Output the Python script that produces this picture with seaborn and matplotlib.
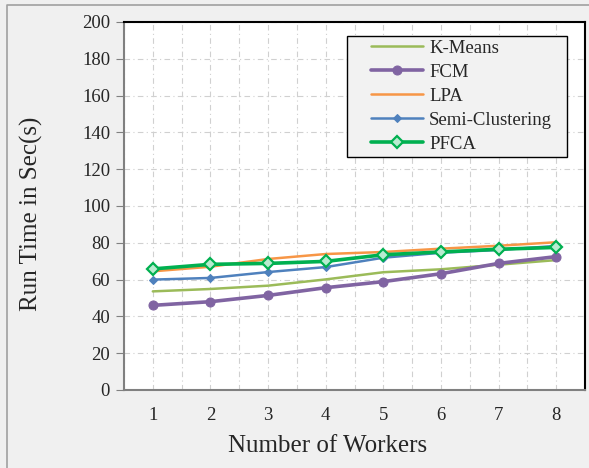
import matplotlib
matplotlib.use("Agg")
import matplotlib.pyplot as plt
from matplotlib.patches import Rectangle
from matplotlib.lines import Line2D
from matplotlib.ticker import MultipleLocator
import seaborn as sns
import pandas as pd

workers = [1, 2, 3, 4, 5, 6, 7, 8]
kmeans = [53.6, 54.9, 56.7, 60.1, 64.0, 65.6, 68.1, 70.6]
fcm = [46.0, 48.0, 51.4, 55.6, 58.9, 63.2, 68.8, 72.5]
lpa = [64.5, 67.0, 71.2, 73.9, 75.0, 76.8, 78.4, 80.3]
semi = [60.0, 60.9, 64.1, 66.8, 71.9, 74.6, 76.1, 78.3]
pfca = [65.8, 68.3, 68.8, 69.9, 73.5, 75.0, 76.5, 77.5]

y_ticks = list(range(0, 201, 20))

sns.set_theme(style="white")
plt.rcParams["font.family"] = ["Liberation Serif", "DejaVu Serif"]

W, H = 589, 468
fig = plt.figure(figsize=(W / 100, H / 100), dpi=100)
fig.patch.set_facecolor("#f0f0f0")
# frame edges along the left and top of the canvas
fig.lines.append(Line2D([7 / W, 7 / W, 1.0], [0.0, 1 - 5 / H, 1 - 5 / H],
                        transform=fig.transFigure, color="#a0a0a0", linewidth=1.2))

ax = fig.add_axes([124 / W, 1 - 390 / H, (585 - 124) / W, (390 - 22) / H])
ax.set_facecolor("white")

series = [
    ("K-Means", kmeans, dict(color="#9bbb59", linewidth=1.8, marker=None)),
    ("FCM", fcm, dict(color="#8064a2", linewidth=2.6, marker="o", markersize=6.5,
                      markeredgecolor="#8064a2")),
    ("LPA", lpa, dict(color="#f79646", linewidth=1.8, marker=None)),
    ("Semi-Clustering", semi, dict(color="#4f81bd", linewidth=1.8, marker="D",
                                    markersize=4, markeredgecolor="#4f81bd")),
    ("PFCA", pfca, dict(color="#00b050", linewidth=2.6, marker="D", markersize=6.5,
                        markerfacecolor="#b8ecd0", markeredgecolor="#00b050",
                        markeredgewidth=1.6)),
]

for name, vals, style in series:
    df = pd.DataFrame({"Workers": workers, "Time": vals})
    sns.lineplot(data=df, x="Workers", y="Time", ax=ax, label=name, **style)

ax.set_xlim(0.5, 8.5)
ax.set_ylim(0, 200)
ax.set_xticks(workers)
ax.set_yticks(y_ticks)
ax.xaxis.set_minor_locator(MultipleLocator(0.5))
ax.grid(True, which="both", axis="x", color="#d0d0d0", linestyle=(0, (5, 3, 1, 3)),
        linewidth=0.8)
ax.grid(True, which="major", axis="y", color="#d0d0d0", linestyle=(0, (5, 3, 1, 3)),
        linewidth=0.8)
ax.set_axisbelow(True)

for side in ["left", "bottom"]:
    ax.spines[side].set_color("#808080")
    ax.spines[side].set_linewidth(1.5)
for side in ["top", "right"]:
    ax.spines[side].set_color("black")
    ax.spines[side].set_linewidth(1.5)

ax.tick_params(axis="y", which="major", direction="out", length=6, width=0.8,
               color="#808080", labelsize=13.5, pad=4, left=True)
ax.tick_params(axis="x", which="both", length=0, labelsize=13.5, pad=12)

ax.set_xlabel("Number of Workers", fontsize=18, labelpad=8, x=(328 - 124) / 461)
ax.set_ylabel("Run Time in Sec(s)", fontsize=18, labelpad=28, y=(390 - 214) / 368)

# legend box drawn separately so its padding can be set on each side
box = Rectangle((347 / W, 1 - 157 / H), (567 - 347) / W, (157 - 36) / H,
                transform=fig.transFigure, facecolor="#f2f2f2", edgecolor="black",
                linewidth=1.0, zorder=4, clip_on=False)
ax.add_patch(box)

leg = ax.legend(loc="upper left", bbox_to_anchor=(371 / W, 1 - 39.5 / H),
                bbox_transform=fig.transFigure, fontsize=13.5, frameon=False,
                handlelength=2.8, handletextpad=0.3,
                labelspacing=0.37, borderpad=0, borderaxespad=0)
leg.set_zorder(5)

fig.savefig("out.png", dpi=100, facecolor=fig.get_facecolor())
